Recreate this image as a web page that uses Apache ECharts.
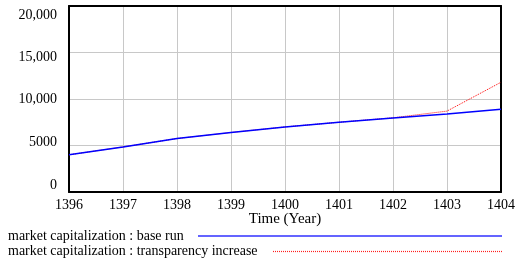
<!DOCTYPE html>
<html>
<head>
<meta charset="UTF-8">
<title>market capitalization</title>
<script src="https://cdn.jsdelivr.net/npm/echarts@6/dist/echarts.min.js"></script>
<style>
  html, body { margin: 0; padding: 0; background: #fff; }
  #chart { width: 518px; height: 260px; }
</style>
</head>
<body>
<div id="chart"></div>
<script>
// data
var years = [1396, 1397, 1398, 1399, 1400, 1401, 1402, 1403, 1404];
var baseRun = [4000, 4850, 5750, 6400, 7000, 7500, 7950, 8400, 8900];
var transparency = [4000, 4850, 5750, 6400, 7000, 7500, 7980, 8700, 11800];
var yTicks = { 0: '0', 5000: '5000', 10000: '10,000', 15000: '15,000', 20000: '20,000' };

var font = 'Liberation Serif';

function pairs(xs, ys) {
  var out = [];
  for (var i = 0; i < xs.length; i++) out.push([xs[i], ys[i]]);
  return out;
}

// vensim spreads the y labels a bit: top one sits lower, bottom one higher
var yShift = { 0: -7, 5000: -3.5, 10000: 0.5, 15000: 4.5, 20000: 9 };
var yRich = {};
for (var k in yShift) {
  var s = yShift[k];
  yRich['y' + k] = {
    fontFamily: font, fontSize: 14, color: '#000',
    padding: s > 0 ? [2 * s, 0, 0, 0] : [0, 0, -2 * s, 0]
  };
}

var chart = echarts.init(document.getElementById('chart'));
chart.setOption({
  animation: false,
  grid: { left: 69, right: 13, top: 6, bottom: 68 },
  xAxis: [{
    type: 'value', min: 1396, max: 1404, interval: 1,
    name: 'Time (Year)', nameLocation: 'middle', nameGap: 20, nameMoveOverlap: false,
    nameTextStyle: { fontFamily: font, fontSize: 15, color: '#000' },
    axisLine: { show: true, lineStyle: { color: '#000', width: 2 } },
    axisTick: { show: false },
    axisLabel: { fontFamily: font, fontSize: 14, color: '#000', margin: 6, formatter: function(v) { return String(v); } },
    splitLine: { show: true, lineStyle: { color: '#c8c8c8', width: 1 } }
  }, {
    type: 'value', position: 'top', min: 1396, max: 1404, interval: 1,
    axisLine: { show: true, onZero: false, lineStyle: { color: '#000', width: 2 } },
    axisTick: { show: false }, axisLabel: { show: false }, splitLine: { show: false }
  }],
  yAxis: [{
    type: 'value', min: 0, max: 20000, interval: 5000,
    axisLine: { show: true, onZero: false, lineStyle: { color: '#000', width: 2 } },
    axisTick: { show: false },
    axisLabel: {
      margin: 12,
      formatter: function(v) { return '{y' + v + '|' + yTicks[v] + '}'; },
      rich: yRich
    },
    splitLine: { show: true, lineStyle: { color: '#c8c8c8', width: 1 } }
  }, {
    type: 'value', position: 'right', min: 0, max: 20000, interval: 5000,
    axisLine: { show: true, onZero: false, lineStyle: { color: '#000', width: 2 } },
    axisTick: { show: false }, axisLabel: { show: false }, splitLine: { show: false }
  }],
  series: [{
    name: 'market capitalization : base run',
    type: 'line', showSymbol: false, z: 3,
    data: pairs(years, baseRun),
    lineStyle: { color: '#0000ff', width: 1.5 }
  }, {
    name: 'market capitalization : transparency increase',
    type: 'line', showSymbol: false, z: 2,
    data: pairs(years, transparency),
    lineStyle: { color: '#ff0000', width: 1, type: 'dotted' }
  }],
  graphic: [
    { type: 'text', left: 8, top: 229, style: { text: 'market capitalization : base run', fontFamily: font, fontSize: 14, fill: '#000' } },
    { type: 'line', shape: { x1: 198, y1: 236, x2: 502, y2: 236 }, style: { stroke: '#6464ff', lineWidth: 2 } },
    { type: 'text', left: 8, top: 244, style: { text: 'market capitalization : transparency increase', fontFamily: font, fontSize: 14, fill: '#000' } },
    { type: 'line', shape: { x1: 273, y1: 251.5, x2: 502, y2: 251.5 }, style: { stroke: '#ff2020', lineWidth: 1.2, lineDash: [1, 1] } }
  ]
});
</script>
</body>
</html>
